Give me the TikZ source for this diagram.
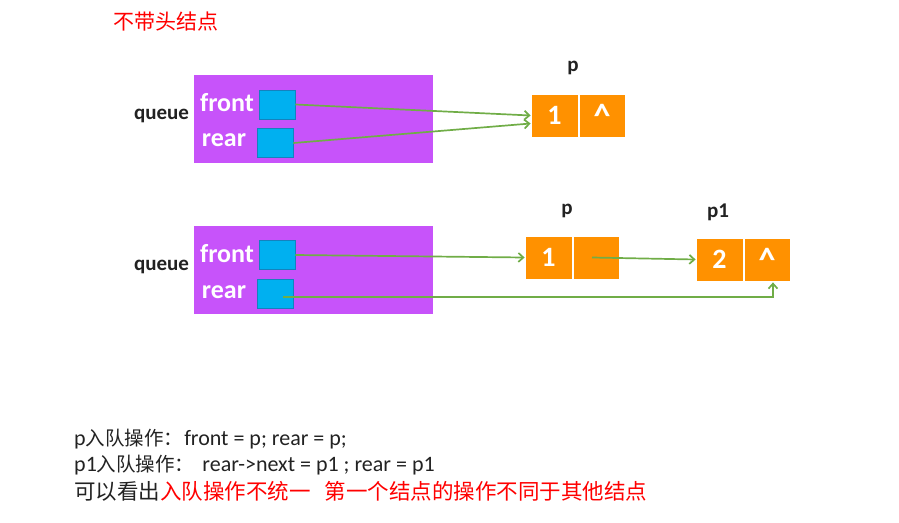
\documentclass[tikz,border=0pt]{standalone}
\usepackage{fontspec}
\setmainfont{Carlito}
\newfontfamily\cjk{Noto Sans CJK SC}
\usetikzlibrary{arrows.meta}
\definecolor{qpurple}{RGB}{199,83,250}
\definecolor{cyanfill}{RGB}{0,176,240}
\definecolor{cyandraw}{RGB}{20,130,190}
\definecolor{orangefill}{RGB}{255,145,0}
\definecolor{linkgreen}{RGB}{112,173,71}
\definecolor{labcol}{RGB}{34,34,34}
\definecolor{txtred}{RGB}{255,0,0}
\begin{document}
\begin{tikzpicture}[x=1pt,y=-1pt,
  qbox/.style={fill=qpurple,draw=none,minimum width=239pt,minimum height=88pt,inner sep=0pt},
  ptr/.style={fill=cyanfill,draw=cyandraw,line width=0.8pt,minimum width=36pt,minimum height=29pt,inner sep=0pt},
  cell/.style={fill=orangefill,draw=white,line width=0.8pt,minimum width=47pt,minimum height=43pt,inner sep=0pt,text=white,font=\bfseries\fontsize{28}{28}\selectfont},
  lab/.style={text=labcol,inner sep=0pt,font=\bfseries\fontsize{21}{21}\selectfont},
  fld/.style={text=white,inner sep=0pt,font=\bfseries\fontsize{26}{26}\selectfont},
  line/.style={text=labcol,anchor=west,inner sep=0pt},
  link/.style={draw=linkgreen,line width=1.7pt,-{Straight Barb[length=5pt,width=9pt]}}]
\useasboundingbox (0,0) rectangle (899,522);

% title
\node[text=txtred,inner sep=0pt,font=\cjk\fontsize{21}{21}\selectfont] (title) at (166,22) {不带头结点};

% ---- first queue ----
\node[qbox] (q1) at (313.5,119) {};
\node[lab] (ql1) at (161.5,116) {queue};
\node[fld] (f1) at (227,103) {front};
\node[fld] (r1) at (224,140) {rear};
\node[ptr] (fb1) at (277,104.5) {};
\node[ptr] (rb1) at (275,143) {};
\node[cell] (pa1) at (554.5,115.5) {1};
\node[cell,minimum width=46pt] (pb1) at (602,115.5) {\fontsize{34}{34}\selectfont\textasciicircum};
\node[lab] (pl1) at (573,68) {p};
\draw[link] (fb1.east) -- (pa1.west);
\draw[link] (rb1.east) -- ([yshift=-8pt]pa1.west);

% ---- second queue ----
\node[qbox] (q2) at (313.5,270) {};
\node[lab] (ql2) at (161.5,267) {queue};
\node[fld] (f2) at (227,254) {front};
\node[fld] (r2) at (224,292) {rear};
\node[ptr] (fb2) at (277,255) {};
\node[ptr] (rb2) at (275,294) {};
\node[cell] (pa2) at (548.5,257.5) {1};
\node[cell,minimum width=46pt] (pb2) at (596,257.5) {};
\node[cell] (qa2) at (719.5,259.5) {2};
\node[cell,minimum width=46pt] (qb2) at (767,259.5) {\fontsize{34}{34}\selectfont\textasciicircum};
\node[lab] (pl2) at (567,211) {p};
\node[lab] (pl3) at (718,212) {p1};
\draw[link] (fb2.east) -- (pa2.west);
\draw[link] ([xshift=-4pt]pb2.center) -- (qa2.west);
\draw[link] ([xshift=8pt,yshift=-3pt]rb2.center) -| ([xshift=6pt,yshift=-1pt]qb2.south);

% ---- bottom text ----
\node[line,font=\fontsize{22}{24}\selectfont] (t1) at (74,439)
  {p{\cjk\fontsize{19.5}{20}\selectfont 入队操作：}\hspace{1pt}front = p; rear = p;};
\node[line,font=\fontsize{22}{24}\selectfont] (t2) at (74,465)
  {p1{\cjk\fontsize{19.5}{20}\selectfont 入队操作：}\hspace{8pt}rear->next = p1 ; rear = p1};
\node[line,font=\cjk\fontsize{21.5}{22}\selectfont] (t3) at (74,491)
  {可以看出\textcolor{txtred}{入队操作不统一\hspace{14pt}第一个结点的操作不同于其他结点}};
\end{tikzpicture}
\end{document}
